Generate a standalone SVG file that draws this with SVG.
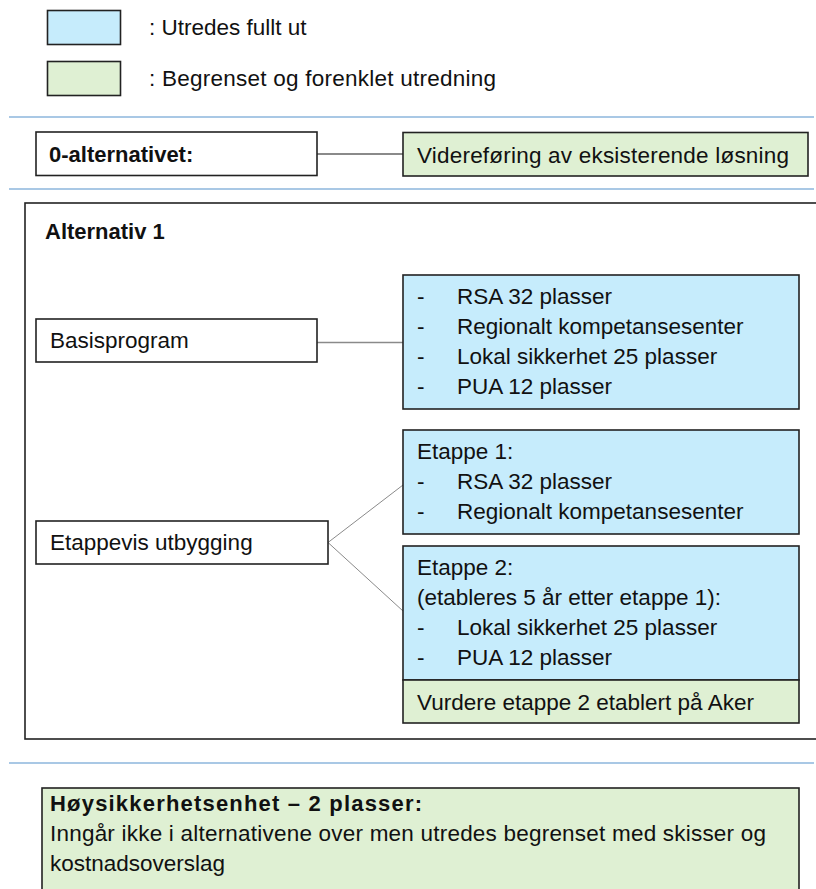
<svg xmlns="http://www.w3.org/2000/svg" width="816" height="889" viewBox="0 0 816 889">
<style>
  text { font-family: "Liberation Sans", Arial, sans-serif; font-size: 22.5px; fill: #111; }
  .b { font-weight: bold; font-size: 22px; }
  .box { stroke: #222; stroke-width: 1.6; }
  .white { fill: #fff; }
  .blue { fill: #c6ecfc; }
  .green { fill: #dff0d3; }
  .sep { stroke: #a9c8e5; stroke-width: 2; }
  .con { stroke: #8a8a8a; fill: none; }
</style>
<rect width="816" height="889" fill="#fff"/>

<g id="legend">
  <rect class="box blue" x="47.5" y="10.5" width="73" height="34"/>
  <text x="149" y="35">: Utredes fullt ut</text>
  <rect class="box green" x="47.5" y="61.5" width="73" height="34"/>
  <text x="149" y="86" textLength="347">: Begrenset og forenklet utredning</text>
</g>

<g id="separators">
  <line class="sep" x1="9" y1="117" x2="814" y2="117"/>
  <line class="sep" x1="9" y1="189" x2="814" y2="189"/>
  <line class="sep" x1="9" y1="763" x2="814" y2="763"/>
</g>

<g id="connectors">
  <line class="con" stroke-width="2" x1="317" y1="154" x2="403" y2="154"/>
  <line class="con" stroke-width="1.6" x1="317" y1="342.5" x2="403" y2="342.5"/>
  <line class="con" stroke-width="1" x1="328" y1="542.5" x2="403" y2="485"/>
  <line class="con" stroke-width="1" x1="328" y1="542.5" x2="403" y2="611"/>
</g>

<g id="alt0">
  <rect class="box white" x="36" y="132" width="281" height="43.5"/>
  <text class="b" x="49" y="162">0-alternativet:</text>
</g>

<g id="videreforing">
  <rect class="box green" x="403" y="132.5" width="405" height="43.5"/>
  <text x="417" y="163" textLength="372">Videreføring av eksisterende løsning</text>
</g>

<g id="alternativ1">
  <rect class="box" fill="none" x="25" y="203" width="820" height="536"/>
  <text class="b" x="45" y="239">Alternativ 1</text>
</g>

<g id="basisprogram">
  <rect class="box white" x="36" y="319" width="281" height="43"/>
  <text x="50" y="348">Basisprogram</text>
</g>

<g id="basis-list">
  <rect class="box blue" x="403" y="275" width="396" height="134"/>
  <text x="417" y="304">-</text><text x="457" y="304">RSA 32 plasser</text>
  <text x="417" y="334">-</text><text x="457" y="334">Regionalt kompetansesenter</text>
  <text x="417" y="364">-</text><text x="457" y="364">Lokal sikkerhet 25 plasser</text>
  <text x="417" y="394">-</text><text x="457" y="394">PUA 12 plasser</text>
</g>

<g id="etappevis">
  <rect class="box white" x="36" y="521" width="292" height="43"/>
  <text x="50" y="550">Etappevis utbygging</text>
</g>

<g id="etappe1">
  <rect class="box blue" x="403" y="430" width="396" height="104"/>
  <text x="417" y="459">Etappe 1:</text>
  <text x="417" y="489">-</text><text x="457" y="489">RSA 32 plasser</text>
  <text x="417" y="519">-</text><text x="457" y="519">Regionalt kompetansesenter</text>
</g>

<g id="etappe2">
  <rect class="box blue" x="403" y="546" width="396" height="134"/>
  <text x="417" y="575">Etappe 2:</text>
  <text x="417" y="605">(etableres 5 år etter etappe 1):</text>
  <text x="417" y="635">-</text><text x="457" y="635">Lokal sikkerhet 25 plasser</text>
  <text x="417" y="665">-</text><text x="457" y="665">PUA 12 plasser</text>
</g>

<g id="aker">
  <rect class="box green" x="403" y="680" width="396" height="43"/>
  <text x="417" y="710">Vurdere etappe 2 etablert på Aker</text>
</g>

<g id="hoysikkerhet">
  <rect class="box green" x="42" y="788" width="757" height="130"/>
  <text class="b" x="50" y="811" textLength="372">Høysikkerhetsenhet – 2 plasser:</text>
  <text x="50" y="841" textLength="716">Inngår ikke i alternativene over men utredes begrenset med skisser og</text>
  <text x="50" y="871">kostnadsoverslag</text>
</g>
</svg>
